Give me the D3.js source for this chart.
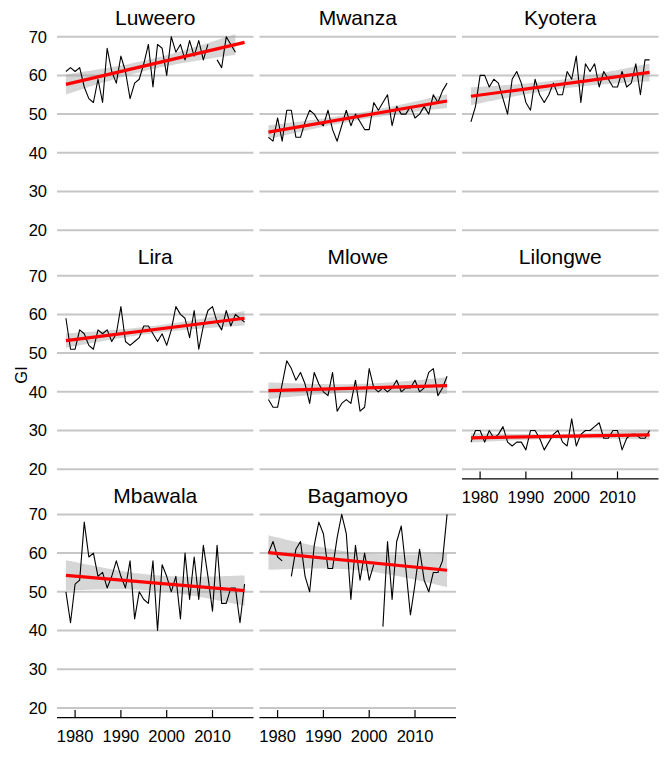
<!DOCTYPE html>
<html><head><meta charset="utf-8">
<script src="https://cdn.jsdelivr.net/npm/d3@7"></script>
<style>
body{margin:0;background:#fff}
text{font-family:"Liberation Sans",Arial,Helvetica,sans-serif;fill:#000}
</style>
</head><body>
<svg id="chart" width="669" height="783"></svg>
<script>
// ---------------- data ----------------
const years = [1978,1979,1980,1981,1982,1983,1984,1985,1986,1987,1988,1989,1990,1991,1992,1993,1994,1995,1996,1997,
               1998,1999,2000,2001,2002,2003,2004,2005,2006,2007,2008,2009,2010,2011,2012,2013,2014,2015,2016,2017];
const stations = ["Luweero","Mwanza","Kyotera","Lira","Mlowe","Lilongwe","Mbawala","Bagamoyo"];
const luweero  = [61,62,61,62,57,54,53,59,53,67,61,58,65,61,54,58,59,63,68,57,68,67,60,70,66,68,64,69,65,69,64,68,null,64,62,70,68,66,null,null];
const mwanza   = [44,43,49,43,51,51,44,44,48,51,50,48,47,51,46,43,47,51,47,50,48,46,46,53,51,53,55,47,52,50,50,52,49,50,52,50,55,53,56,58];
const kyotera  = [48,52,60,60,57,59,58,54,50,59,61,58,53,51,59,55,53,55,58,55,55,61,59,65,53,63,61,63,57,61,59,57,57,61,57,58,63,55,64,64];
const lira     = [59,51,51,56,55,52,51,56,55,56,53,55,62,53,52,53,54,57,57,55,53,55,52,56,62,60,59,54,61,51,57,61,62,58,56,61,57,60,59,58];
const mlowe    = [38,36,36,42,48,46,43,45,42,37,45,42,40,39,45,35,37,38,37,43,35,36,46,41,40,41,40,41,43,40,41,41,43,40,41,45,46,39,41,44];
const lilongwe = [27,30,30,27,30,28,29,31,27,26,27,27,25,30,30,28,25,27,29,30,27,26,33,26,29,30,30,31,32,28,28,30,30,25,28,29,29,28,28,30];
const mbawala  = [50,42,52,53,68,59,60,54,55,51,54,58,54,51,58,43,50,48,47,58,40,57,54,50,54,43,60,48,59,48,62,54,45,62,47,47,51,51,42,52];
const bagamoyo = [60,63,59,58,null,54,61,63,54,50,62,68,65,56,56,64,70,65,48,62,53,60,53,57,null,41,63,48,63,67,56,44,52,61,53,50,55,55,58,70];
const seriesValues = [luweero, mwanza, kyotera, lira, mlowe, lilongwe, mbawala, bagamoyo];
const yTicks = [20,30,40,50,60,70];
const xTicks = [1980,1990,2000,2010];
const yLabel = "GI";

// ---------------- layout ----------------
const colLeft = [57, 259.5, 462];
const rowTop  = [27, 266, 504.7];
const panelW = 196.5, panelH = 212.9;
const ncol = 3;
// which panels carry the x axis (bottom of each column)
const bottomOf = [6, 7, 5];

const x = d3.scaleLinear().domain([1976.05, 2018.95]).range([0, panelW]);
const y = d3.scaleLinear().domain([17.5, 72.5]).range([panelH, 0]);

const svg = d3.select("#chart");

// linear regression with 95% confidence band
function tQuant(df){ const z=1.959964; return z + (z*z*z+z)/(4*df) + (5*Math.pow(z,5)+16*z*z*z+3*z)/(96*df*df); }
function fit(pts){
  const n = pts.length;
  const mx = d3.mean(pts, d=>d[0]), my = d3.mean(pts, d=>d[1]);
  let sxx=0, sxy=0; pts.forEach(d=>{ sxx+=(d[0]-mx)**2; sxy+=(d[0]-mx)*(d[1]-my); });
  const b = sxy/sxx, a = my - b*mx;
  let sse=0; pts.forEach(d=>{ sse += (d[1]-(a+b*d[0]))**2; });
  const s = Math.sqrt(sse/(n-2)), t = tQuant(n-2);
  return {a, b, hw: xv => t*s*Math.sqrt(1/n + (xv-mx)**2/sxx)};
}

stations.forEach((name, k) => {
  const col = k % ncol, row = Math.floor(k / ncol);
  const g = svg.append("g").attr("transform", `translate(${colLeft[col]},${rowTop[row]})`);
  const vals = seriesValues[k];
  const pts = years.map((yr,i)=>[yr, vals[i]]);
  const valid = pts.filter(d=>d[1]!==null);

  // grid
  g.selectAll("line.grid").data(yTicks).join("line")
    .attr("x1", 0).attr("x2", panelW)
    .attr("y1", d=>y(d)).attr("y2", d=>y(d))
    .attr("stroke", "#c6c6c6").attr("stroke-width", 2);

  // regression
  const m = fit(valid);
  const x0 = d3.min(valid, d=>d[0]), x1 = d3.max(valid, d=>d[0]);
  const bandX = d3.range(x0, x1 + 0.001, 0.5);
  g.append("path")
    .datum(bandX)
    .attr("d", d3.area().x(d=>x(d)).y0(d=>y(m.a+m.b*d - m.hw(d))).y1(d=>y(m.a+m.b*d + m.hw(d))))
    .attr("fill", "#999999").attr("fill-opacity", 0.4);

  // data line
  g.append("path")
    .datum(pts)
    .attr("d", d3.line().defined(d=>d[1]!==null).x(d=>x(d[0])).y(d=>y(d[1])))
    .attr("fill", "none").attr("stroke", "#000").attr("stroke-width", 1.1).attr("stroke-linejoin","round");

  // trend line over full year span
  const tx = [years[0], years[years.length-1]];
  g.append("path")
    .datum(tx)
    .attr("d", d3.line().x(d=>x(d)).y(d=>y(m.a+m.b*d)))
    .attr("stroke", "#ff0000").attr("stroke-width", 3.2).attr("fill","none");

  // strip title
  g.append("text").attr("x", panelW/2).attr("y", -2)
    .attr("text-anchor","middle").attr("font-size", 21).text(name);

  // y axis labels on first column
  if (col === 0) {
    g.selectAll("text.ytick").data(yTicks).join("text")
      .attr("class","ytick")
      .attr("x", -10).attr("y", d=>y(d)).attr("dy","0.36em")
      .attr("text-anchor","end").attr("font-size", 16.5).text(d=>d);
  }

  // x axis on bottom panels
  if (bottomOf[col] === k) {
    const ax = g.append("g").attr("transform", `translate(0,${panelH})`);
    ax.append("line").attr("x1",0).attr("x2",panelW).attr("y1",0).attr("y2",0)
      .attr("stroke","#000").attr("stroke-width",1.2);
    ax.selectAll("line.tick").data(xTicks).join("line")
      .attr("x1", d=>x(d)).attr("x2", d=>x(d)).attr("y1", 0).attr("y2", -7.5)
      .attr("stroke","#000").attr("stroke-width",1.2);
    ax.selectAll("text").data(xTicks).join("text")
      .attr("x", d=>x(d)).attr("y", 24).attr("text-anchor","middle")
      .attr("font-size", 16.5).text(d=>d);
  }
});

// y axis title
svg.append("text")
  .attr("transform", "translate(27,375) rotate(-90)")
  .attr("text-anchor","middle").attr("font-size", 16.5).text(yLabel);
</script>
</body></html>
